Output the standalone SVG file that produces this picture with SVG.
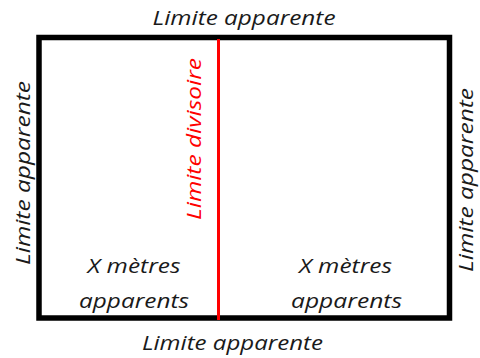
<svg xmlns="http://www.w3.org/2000/svg" width="480" height="358" viewBox="0 0 480 358">
<style>
.t{font-family:"Open Sans","Liberation Sans",sans-serif;font-style:italic;font-size:20px;fill:#1a1a1a;text-anchor:middle}
.r{fill:#ff0000}
</style>
<rect width="480" height="358" fill="#fff"/>
<g id="terrain">
<rect x="39" y="37.5" width="410.5" height="280.5" fill="none" stroke="#000" stroke-width="5.5"/>
</g>
<g id="connectors">
<line x1="218.5" y1="39" x2="218.5" y2="320" stroke="#ff0000" stroke-width="3"/>
</g>
<g id="labels">
<text class="t" x="244" y="25" textLength="183" lengthAdjust="spacingAndGlyphs">Limite apparente</text>
<text class="t" x="232.5" y="350" textLength="181" lengthAdjust="spacingAndGlyphs">Limite apparente</text>
<text class="t" transform="translate(30,173) rotate(-90)" textLength="184" lengthAdjust="spacingAndGlyphs">Limite apparente</text>
<text class="t" transform="translate(473,180) rotate(-90)" textLength="184" lengthAdjust="spacingAndGlyphs">Limite apparente</text>
<text class="t r" transform="translate(201,139) rotate(-90)" textLength="162" lengthAdjust="spacingAndGlyphs">Limite divisoire</text>
<text class="t" x="134" y="273" textLength="93" lengthAdjust="spacingAndGlyphs">X mètres</text>
<text class="t" x="134" y="308" textLength="110" lengthAdjust="spacingAndGlyphs">apparents</text>
<text class="t" x="345.5" y="273" textLength="93" lengthAdjust="spacingAndGlyphs">X mètres</text>
<text class="t" x="346.5" y="308" textLength="111" lengthAdjust="spacingAndGlyphs">apparents</text>
</g>
</svg>
